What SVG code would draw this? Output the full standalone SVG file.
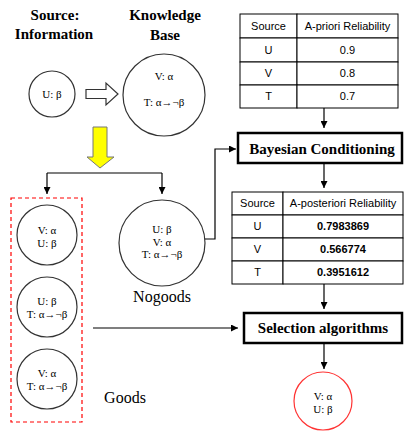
<svg xmlns="http://www.w3.org/2000/svg" width="405" height="431" viewBox="0 0 405 431">
<defs>
<marker id="ah" viewBox="0 0 10 10" refX="10" refY="5" markerWidth="7" markerHeight="7" orient="auto" markerUnits="userSpaceOnUse"><path d="M0,0 L10,5 L0,10 z" fill="#000"/></marker>
<style>
.hd{font-family:"Liberation Serif",serif;font-weight:bold;font-size:15px;text-anchor:middle;fill:#000}
.lb{font-family:"Liberation Serif",serif;font-size:16px;text-anchor:middle;fill:#000}
.ct{font-family:"Liberation Serif",serif;font-size:11px;text-anchor:middle;fill:#000}
.tt{font-family:"Liberation Sans",sans-serif;font-size:11px;text-anchor:middle;fill:#000}
.tb{font-family:"Liberation Sans",sans-serif;font-size:11px;font-weight:bold;text-anchor:middle;fill:#000}
.c{fill:#fff;stroke:#333;stroke-width:1.2}
.cell{fill:#fff;stroke:#000;stroke-width:1}
.box{fill:#fff;stroke:#000;stroke-width:2.5}
.ln{fill:none;stroke:#000;stroke-width:1.2}
</style>
</defs>
<rect width="405" height="431" fill="#fff"/>
<g id="titles">
<text class="hd" x="55" y="20">Source:</text>
<text class="hd" x="54" y="39">Information</text>
<text class="hd" x="165" y="20">Knowledge</text>
<text class="hd" x="165" y="40">Base</text>
</g>
<g id="source-u">
<circle class="c" cx="52" cy="94" r="23"/>
<text class="ct" x="52" y="98">U: β</text>
</g>
<g id="hollow-arrow">
<path d="M86,89.5 H106 V83 L118,94 L106,105 V98.5 H86 Z" fill="#fff" stroke="#333" stroke-width="1.2"/>
</g>
<g id="kb">
<circle class="c" cx="164" cy="95" r="41"/>
<text class="ct" x="164" y="80">V: α</text>
<text class="ct" x="164" y="106">T: α→¬β</text>
</g>
<g id="yellow-arrow">
<path d="M93,127 H107 V157 H114 L100,168 L87,157 H93 Z" fill="#ffff00" stroke="#777" stroke-width="1"/>
</g>
<g id="apriori">
<rect class="cell" x="240" y="14" width="57" height="24"/>
<rect class="cell" x="297" y="14" width="101" height="24"/>
<rect class="cell" x="240" y="38" width="57" height="24"/>
<rect class="cell" x="297" y="38" width="101" height="24"/>
<rect class="cell" x="240" y="62" width="57" height="23"/>
<rect class="cell" x="297" y="62" width="101" height="23"/>
<rect class="cell" x="240" y="85" width="57" height="23"/>
<rect class="cell" x="297" y="85" width="101" height="23"/>
<text class="tt" x="268.5" y="30">Source</text>
<text class="tt" x="347.5" y="30">A-priori Reliability</text>
<text class="tt" x="268.5" y="54">U</text>
<text class="tt" x="347.5" y="54">0.9</text>
<text class="tt" x="268.5" y="77">V</text>
<text class="tt" x="347.5" y="77">0.8</text>
<text class="tt" x="268.5" y="100">T</text>
<text class="tt" x="347.5" y="100">0.7</text>
</g>
<g id="bayes">
<rect class="box" x="238" y="133" width="164" height="30"/>
<text class="hd" x="322" y="154">Bayesian Conditioning</text>
</g>
<g id="aposteriori">
<rect class="cell" x="232" y="192" width="51" height="23"/>
<rect class="cell" x="283" y="192" width="120" height="23"/>
<rect class="cell" x="232" y="215" width="51" height="23"/>
<rect class="cell" x="283" y="215" width="120" height="23"/>
<rect class="cell" x="232" y="238" width="51" height="23"/>
<rect class="cell" x="283" y="238" width="120" height="23"/>
<rect class="cell" x="232" y="261" width="51" height="23"/>
<rect class="cell" x="283" y="261" width="120" height="23"/>
<text class="tt" x="257.5" y="207">Source</text>
<text class="tt" x="343" y="207">A-posteriori Reliability</text>
<text class="tt" x="257.5" y="230">U</text>
<text class="tb" x="343" y="230">0.7983869</text>
<text class="tt" x="257.5" y="253">V</text>
<text class="tb" x="343" y="253">0.566774</text>
<text class="tt" x="257.5" y="276">T</text>
<text class="tb" x="343" y="276">0.3951612</text>
</g>
<g id="selection">
<rect class="box" x="244" y="313" width="158" height="30"/>
<text class="hd" x="323" y="333">Selection algorithms</text>
</g>
<g id="result">
<circle cx="323" cy="401" r="29" fill="#fff" stroke="#ff3333" stroke-width="1.2"/>
<text class="ct" x="323" y="400">V: α</text>
<text class="ct" x="323" y="413">U: β</text>
</g>
<g id="goods">
<rect x="11" y="198" width="71" height="224" fill="none" stroke="#ff0000" stroke-width="1.2" stroke-dasharray="4,3"/>
<circle class="c" cx="47" cy="235" r="30"/>
<text class="ct" x="47" y="234">V: α</text>
<text class="ct" x="47" y="247">U: β</text>
<circle class="c" cx="47" cy="307" r="30"/>
<text class="ct" x="47" y="305">U: β</text>
<text class="ct" x="47" y="318">T: α→¬β</text>
<circle class="c" cx="47" cy="379" r="30"/>
<text class="ct" x="47" y="377">V: α</text>
<text class="ct" x="47" y="390">T: α→¬β</text>
<text class="lb" x="125" y="403">Goods</text>
</g>
<g id="nogoods">
<circle class="c" cx="162" cy="243" r="43"/>
<text class="ct" x="162" y="233">U: β</text>
<text class="ct" x="162" y="246">V: α</text>
<text class="ct" x="162" y="258">T: α→¬β</text>
<text class="lb" x="162" y="302">Nogoods</text>
</g>
<g id="connectors">
<path class="ln" d="M47,173 H162"/>
<path class="ln" d="M47,173 V194" marker-end="url(#ah)"/>
<path class="ln" d="M162,173 V194" marker-end="url(#ah)"/>
<path class="ln" d="M205,239 H215 V149 H236" marker-end="url(#ah)"/>
<path class="ln" d="M324,108 V128" marker-end="url(#ah)"/>
<path class="ln" d="M324,163 V188" marker-end="url(#ah)"/>
<path class="ln" d="M324,284 V309" marker-end="url(#ah)"/>
<path class="ln" d="M93,328 H238" marker-end="url(#ah)"/>
<path class="ln" d="M324,343 V369" marker-end="url(#ah)"/>
</g>
</svg>
